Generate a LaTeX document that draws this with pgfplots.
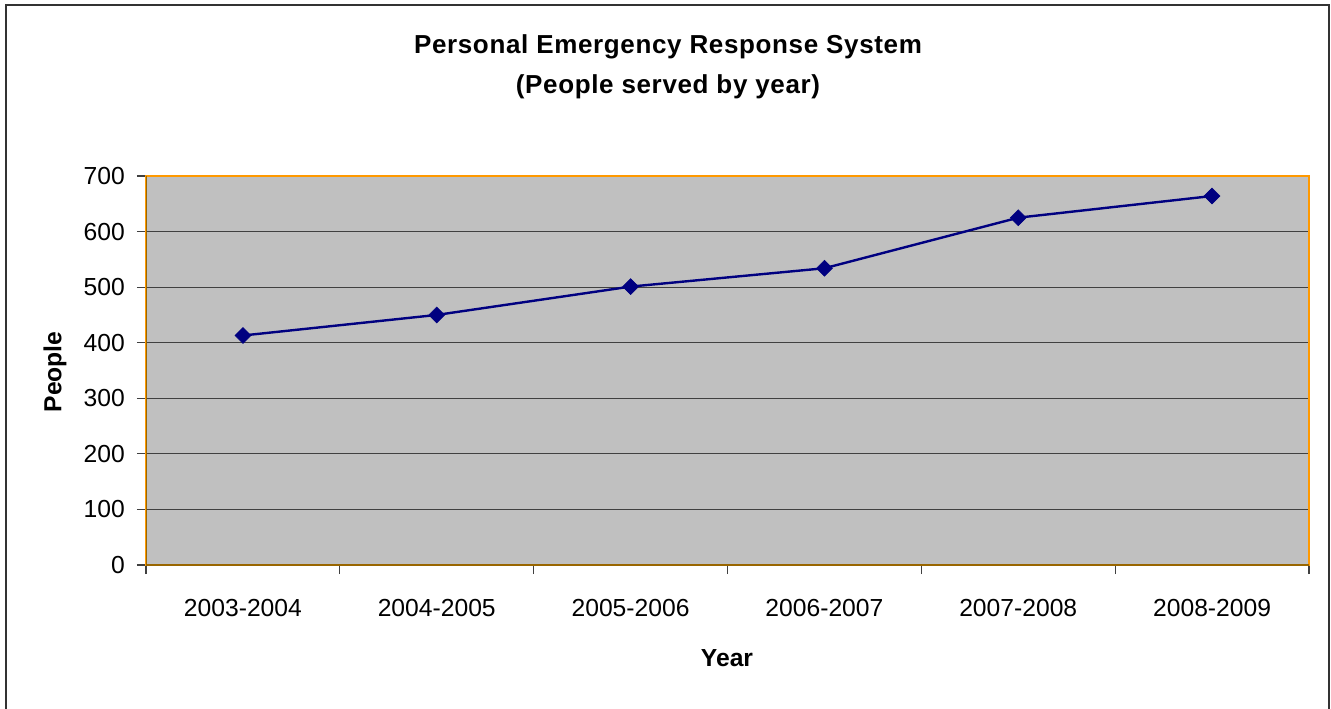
\documentclass[border=0pt]{standalone}
\usepackage{fontspec}
\setmainfont{Liberation Sans}
\newfontfamily\titlefont[LetterSpace=2.5]{Liberation Sans}
\usepackage{pgfplots}
\pgfplotsset{compat=1.18}
\definecolor{plotgray}{RGB}{192,192,192}
\definecolor{navyline}{RGB}{0,0,128}
\definecolor{borderorange}{RGB}{255,153,0}
\definecolor{axisbrown}{RGB}{153,102,0}
\begin{document}
\begin{tikzpicture}[x=1pt,y=1pt]
\path[use as bounding box] (0,0) rectangle (998.25,531);
\draw[line width=1.5pt, color=black!80] (4.5,-2) -- (4.5,527.25) -- (996.75,527.25) -- (996.75,-2);
\begin{axis}[
  at={(109.5pt,107.25pt)}, anchor=south west,
  width=872.25pt, height=291.75pt, scale only axis,
  xmin=-0.5, xmax=5.5, ymin=0, ymax=700,
  xtick={0,1,2,3,4,5},
  xticklabels={2003-2004,2004-2005,2005-2006,2006-2007,2007-2008,2008-2009},
  minor xtick={-0.5,0.5,1.5,2.5,3.5,4.5,5.5},
  ytick={0,100,...,700},
  ymajorgrids,
  grid style={black!75, line width=0.8pt},
  major x tick style={draw=none},
  minor x tick style={black!75, line width=0.8pt},
  y tick style={black!75, line width=0.8pt},
  major tick length=6.75pt, minor tick length=6.75pt,
  tick align=outside, xtick pos=bottom, ytick pos=left,
  axis background/.style={fill=plotgray},
  axis line style={borderorange, line width=1.3pt},
  tick label style={font=\fontsize{18.5}{20}\selectfont},
  /pgf/number format/assume math mode=true,
  yticklabel style={anchor=east, inner sep=0pt, xshift=-9pt},
  xticklabel style={anchor=base, inner sep=0pt, yshift=-32pt},
]
\addplot[navyline, line width=1.8pt, mark=square*, mark size=4.2pt,
  mark options={rotate=45, fill=navyline, draw=navyline, line width=0.5pt}]
  coordinates {(0,413) (1,450) (2,501) (3,534) (4,625) (5,664)};
\draw[axisbrown, line width=1.3pt] (rel axis cs:0,1) -- (rel axis cs:0,0) -- (rel axis cs:1,0);
\end{axis}
\node[align=center, font=\titlefont\bfseries\fontsize{19.5}{30}\selectfont] at (501,480.75)
  {Personal Emergency Response System\\(People served by year)};
\node[font=\bfseries\fontsize{18.5}{20}\selectfont] at (545.25,37.5) {Year};
\node[font=\bfseries\fontsize{18.5}{20}\selectfont, rotate=90] at (41.25,252) {People};
\end{tikzpicture}
\end{document}
